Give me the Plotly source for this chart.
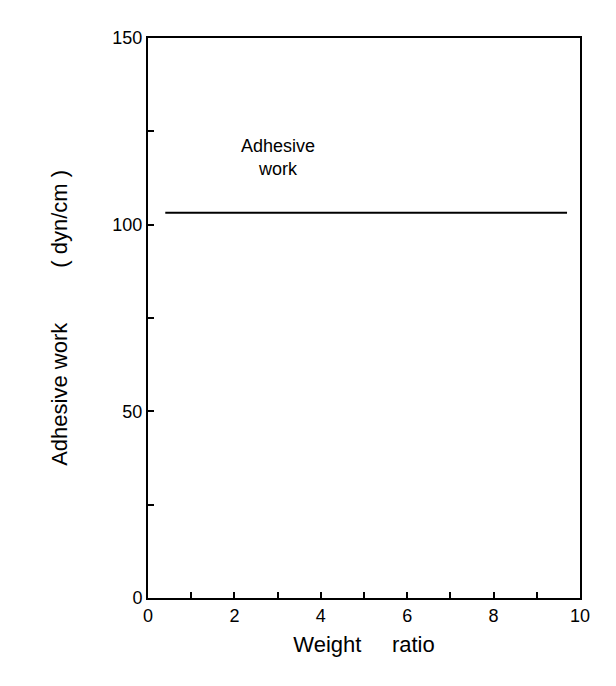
import plotly.graph_objects as go

x_vals = [0.4, 9.7]
y_vals = [103.2, 103.2]
x_ticks = [0, 2, 4, 6, 8, 10]
y_ticks = [0, 50, 100, 150]

fig = go.Figure()
fig.add_trace(go.Scatter(x=x_vals, y=y_vals, mode="lines",
                         line=dict(color="black", width=2), showlegend=False))
fig.add_annotation(x=3.0, y=118, text="Adhesive<br>work", showarrow=False,
                   font=dict(family="Liberation Sans", size=18, color="black"), align="center")
fig.add_annotation(x=-0.24, y=0.5, xref="paper", yref="paper",
                   text="Adhesive work&nbsp;&nbsp;&nbsp;&nbsp;&nbsp;&nbsp;&nbsp;&nbsp;&nbsp;( dyn/cm )",
                   textangle=-90, showarrow=False,
                   font=dict(family="Liberation Sans", size=22, color="black"))
axis_common = dict(showgrid=False, zeroline=False, showline=True, linecolor="black",
                   linewidth=2, mirror=True, ticks="inside", tickcolor="black",
                   tickwidth=2, ticklen=6,
                   tickfont=dict(family="Liberation Sans", size=18, color="black"))
fig.update_xaxes(range=[0, 10], tickvals=list(range(0, 11)),
                 ticktext=[str(v) if v in x_ticks else "" for v in range(0, 11)],
                 title=dict(text="Weight&nbsp;&nbsp;&nbsp;&nbsp;&nbsp;ratio",
                            font=dict(family="Liberation Sans", size=22, color="black"), standoff=12),
                 **axis_common)
fig.update_yaxes(range=[0, 150], tickvals=list(range(0, 151, 25)),
                 ticktext=[str(v) if v in y_ticks else "" for v in range(0, 151, 25)],
                 **axis_common)
fig.update_layout(width=616, height=686, plot_bgcolor="white", paper_bgcolor="white",
                  margin=dict(l=140, r=44, t=30, b=96, autoexpand=False))
fig.write_html("out.html")
